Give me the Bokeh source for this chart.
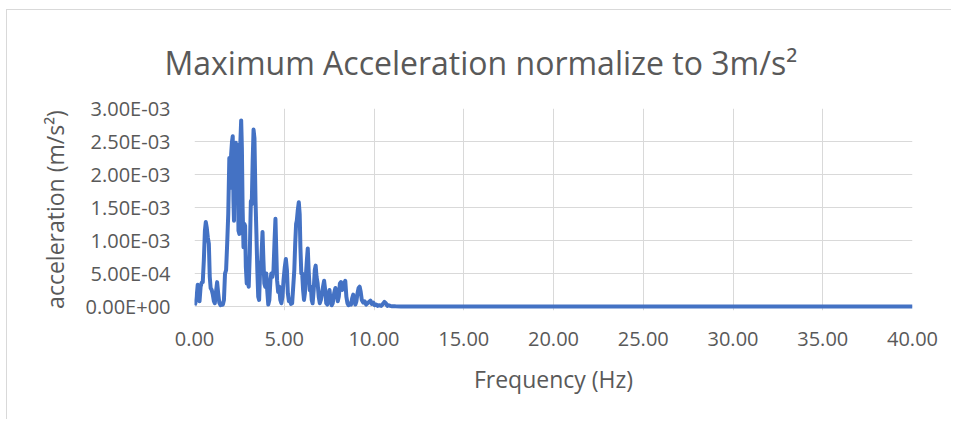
from bokeh.plotting import figure
from bokeh.models import Range1d, FixedTicker, ColumnDataSource
from bokeh.embed import file_html
from bokeh.resources import INLINE

# ---------------- data ----------------
title_text = "Maximum Acceleration normalize to 3m/s²"
x_title = "Frequency (Hz)"
y_title = "acceleration (m/s²)"

x_ticks = [0, 5, 10, 15, 20, 25, 30, 35, 40]
x_tick_labels = ["0.00", "5.00", "10.00", "15.00", "20.00", "25.00", "30.00", "35.00", "40.00"]
y_ticks = [0.0, 0.0005, 0.001, 0.0015, 0.002, 0.0025, 0.003]
y_tick_labels = ["0.00E+00", "5.00E-04", "1.00E-03", "1.50E-03", "2.00E-03", "2.50E-03", "3.00E-03"]

freq_hz = [
    0.00, 0.05, 0.12, 0.18, 0.24, 0.28, 0.34, 0.40, 0.46, 0.52, 0.58, 0.63, 0.68, 0.74, 0.80,
    0.85, 0.90, 0.96, 1.02, 1.08, 1.13, 1.19, 1.26, 1.32, 1.38, 1.45, 1.52, 1.58, 1.64, 1.70,
    1.76, 1.82, 1.88, 1.94, 1.99, 2.04, 2.09, 2.13, 2.17, 2.20, 2.25, 2.30, 2.35, 2.40, 2.45,
    2.50, 2.55, 2.60, 2.64, 2.68, 2.73, 2.78, 2.82, 2.86, 2.91, 2.96, 3.02, 3.08, 3.14, 3.19,
    3.24, 3.29, 3.34, 3.40, 3.45, 3.50, 3.55, 3.60, 3.66, 3.72, 3.79, 3.84, 3.89, 3.94, 4.00,
    4.05, 4.11, 4.17, 4.23, 4.28, 4.34, 4.40, 4.46, 4.51, 4.56, 4.60, 4.66, 4.72, 4.78, 4.84,
    4.90, 4.96, 5.03, 5.09, 5.15, 5.20, 5.26, 5.32, 5.38, 5.44, 5.50, 5.56, 5.61, 5.66, 5.70,
    5.75, 5.81, 5.86, 5.90, 5.95, 6.00, 6.05, 6.10, 6.15, 6.20, 6.26, 6.31, 6.36, 6.42, 6.48,
    6.53, 6.58, 6.64, 6.70, 6.75, 6.80, 6.86, 6.92, 6.98, 7.04, 7.10, 7.16, 7.22, 7.28, 7.34,
    7.40, 7.46, 7.52, 7.58, 7.64, 7.70, 7.78, 7.85, 7.92, 7.98, 8.04, 8.10, 8.16, 8.22, 8.28,
    8.34, 8.40, 8.46, 8.52, 8.58, 8.65, 8.72, 8.78, 8.84, 8.90, 8.96, 9.02, 9.08, 9.14, 9.20,
    9.26, 9.32, 9.40, 9.48, 9.56, 9.64, 9.72, 9.80, 9.88, 9.96, 10.04, 10.12, 10.20, 10.30, 10.40,
    10.50, 10.58, 10.66, 10.74, 10.82, 10.90, 11.00, 11.20, 11.50, 12.00, 15.00, 20.00, 25.00, 30.00, 35.00,
    40.00,
]
# acceleration in units of 1e-3 m/s^2
accel_milli = [
    0.02, 0.05, 0.15, 0.33, 0.30, 0.08, 0.30, 0.36, 0.37, 0.70, 1.15, 1.28, 1.20, 1.05, 0.95,
    0.45, 0.28, 0.25, 0.18, 0.08, 0.05, 0.20, 0.37, 0.20, 0.06, 0.02, 0.05, 0.03, 0.10, 0.50,
    0.55, 0.95, 1.40, 2.25, 1.80, 2.30, 2.50, 2.58, 1.60, 1.30, 2.40, 2.48, 2.10, 2.45, 1.15,
    1.10, 2.45, 2.82, 2.40, 1.50, 0.90, 1.25, 1.22, 0.60, 0.35, 0.40, 0.30, 0.80, 1.60, 1.55,
    2.20, 2.68, 2.55, 1.60, 1.10, 0.55, 0.15, 0.10, 0.60, 0.70, 1.13, 0.70, 0.35, 0.30, 0.50,
    0.25, 0.03, 0.10, 0.40, 0.50, 0.45, 0.55, 1.00, 1.33, 0.80, 0.40, 0.22, 0.30, 0.10, 0.05,
    0.15, 0.40, 0.60, 0.72, 0.55, 0.20, 0.08, 0.10, 0.04, 0.05, 0.30, 0.55, 0.95, 1.25, 1.30,
    1.45, 1.58, 1.40, 0.90, 0.50, 0.50, 0.25, 0.10, 0.20, 0.45, 0.70, 0.88, 0.55, 0.25, 0.30,
    0.10, 0.05, 0.25, 0.55, 0.62, 0.45, 0.35, 0.15, 0.05, 0.10, 0.20, 0.30, 0.39, 0.25, 0.05,
    0.03, 0.15, 0.25, 0.10, 0.02, 0.05, 0.20, 0.28, 0.20, 0.08, 0.15, 0.35, 0.37, 0.25, 0.28,
    0.35, 0.39, 0.15, 0.05, 0.02, 0.05, 0.03, 0.12, 0.18, 0.10, 0.03, 0.08, 0.20, 0.28, 0.30,
    0.22, 0.10, 0.06, 0.08, 0.03, 0.05, 0.07, 0.09, 0.04, 0.06, 0.02, 0.03, 0.01, 0.02, 0.01,
    0.04, 0.07, 0.05, 0.01, 0.02, 0.01, 0.005, 0.003, 0.002, 0.001, 0.001, 0.0005, 0.0005, 0.0005, 0.0005,
    0.0005,
]
accel = [v * 1e-3 for v in accel_milli]

# ---------------- style ----------------
FONT = "Open Sans"
TXT = "#595959"
GRID = "#D9D9D9"
LINE = "#4472C4"

src = ColumnDataSource(data=dict(freq=freq_hz, acc=accel))

p = figure(
    width=945, height=410,
    output_backend="svg", toolbar_location=None,
    x_range=Range1d(0, 40), y_range=Range1d(-6e-5, 3e-3),
    min_border_left=187, min_border_right=40, min_border_top=98, min_border_bottom=110,
)
p.styles = {
    "margin-left": "6px", "margin-top": "9px",
    "border-left": "1px solid #D9D9D9", "border-top": "1px solid #D9D9D9",
}
p.outline_line_color = None
p.background_fill_color = "white"
p.border_fill_color = "white"

# title
p.title.text = title_text
p.title.align = "left"
p.title.offset = -30
p.title.standoff = 50
p.title.text_font = FONT
p.title.text_font_size = "32px"
p.title.text_font_style = "normal"
p.title.text_color = TXT

p.xaxis.ticker = FixedTicker(ticks=x_ticks)
p.xaxis.major_label_overrides = dict(zip(x_ticks, x_tick_labels))
p.yaxis.ticker = FixedTicker(ticks=y_ticks)
p.yaxis.major_label_overrides = dict(zip(y_ticks, y_tick_labels))

for ax in (p.xaxis[0], p.yaxis[0]):
    ax.axis_line_color = None
    ax.major_tick_line_color = None
    ax.minor_tick_line_color = None
    ax.major_tick_in = 0
    ax.major_tick_out = 0
    ax.major_label_text_font = FONT
    ax.major_label_text_font_size = "20px"
    ax.major_label_text_color = TXT
    ax.axis_label_text_font = FONT
    ax.axis_label_text_font_size = "23px"
    ax.axis_label_text_font_style = "normal"
    ax.axis_label_text_color = TXT

p.yaxis.major_label_standoff = 24
p.yaxis.axis_label = y_title
p.yaxis.axis_label_standoff = 12
p.xaxis.major_label_standoff = 21
p.xaxis.axis_label = x_title
p.xaxis.axis_label_standoff = 14

p.xgrid.grid_line_color = GRID
p.ygrid.grid_line_color = GRID
p.xgrid.grid_line_width = 1
p.ygrid.grid_line_width = 1

p.line(x="freq", y="acc", source=src, line_color=LINE, line_width=4, line_join="round")

open("out.html", "w").write(file_html(p, INLINE))
